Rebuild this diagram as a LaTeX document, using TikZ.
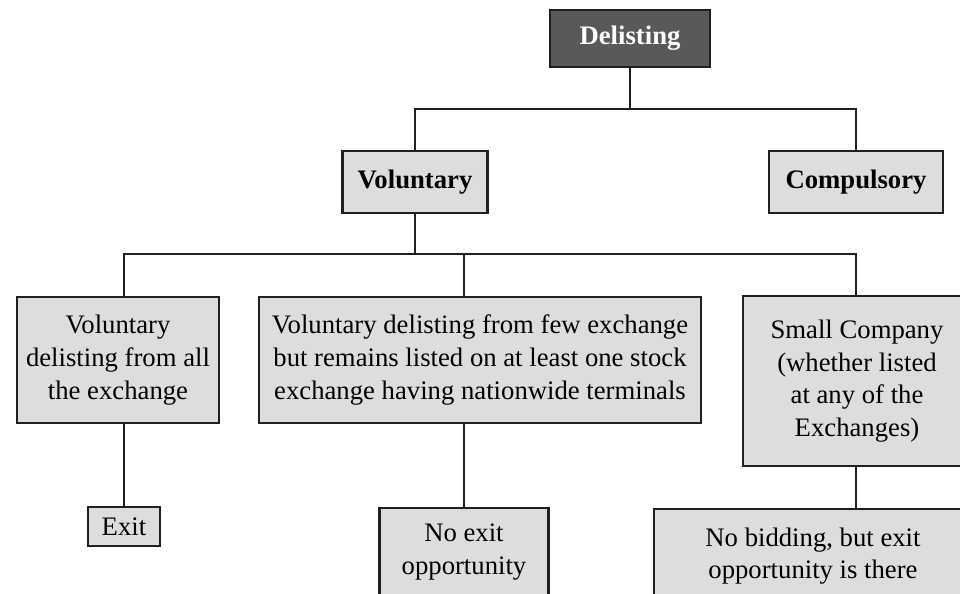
\documentclass[tikz,border=0pt]{standalone}
\usepackage{fontspec}
\setmainfont{Liberation Serif}

\definecolor{boxgray}{HTML}{DCDDDF}
\definecolor{headgray}{HTML}{58595B}
\definecolor{linegray}{HTML}{231F20}

\begin{document}
\begin{tikzpicture}[x=0.02cm, y=-0.02cm,
		box/.style={draw=linegray, line width=1.3pt, fill=boxgray, align=center, inner sep=0pt, font=\fontsize{15.2}{18.6}\selectfont},
		head/.style={box, font=\fontsize{15.2}{18.6}\selectfont\bfseries},
		link/.style={draw=linegray, line width=1.3pt}]
		\useasboundingbox (0,0) rectangle (960,594);
		\clip (0,0) rectangle (960,594);

		% Top of the tree
		\node[head, fill=headgray, text=white, minimum width=3.2cm, minimum height=1.14cm] (del) at (630,38.5) {Delisting};

		% Two kinds
		\node[head, minimum width=2.9cm, minimum height=1.24cm] (vol) at (415,182) {Voluntary};
		\node[head, minimum width=3.48cm, minimum height=1.24cm] (comp) at (856,182) {Compulsory};

		% Voluntary cases
		\node[box, minimum width=4.04cm, minimum height=2.52cm] (all) at (118,360) {Voluntary\\delisting from all\\the exchange};
		\node[box, minimum width=8.84cm, minimum height=2.52cm] (few) at (480,360) {Voluntary delisting from few exchange\\but remains listed on at least one stock\\exchange having nationwide terminals};
		\node[box, minimum width=4.56cm, minimum height=3.4cm] (small) at (857,381) {Small Company\\(whether listed\\at any of the\\Exchanges)};

		% Outcomes
		\node[box, minimum width=1.44cm, minimum height=0.78cm] (exit) at (124,526.5) {Exit};
		\node[box, minimum width=3.38cm, minimum height=1.76cm] (noexit) at (464,552) {No exit\\opportunity};
		\node[box, minimum width=6.36cm, minimum height=1.88cm] (nobid) at (813,556) {No bidding, but exit\\opportunity is there};

		% Branch points
		\coordinate (top) at (630,109);
		\coordinate (b1) at (124,254);
		\coordinate (b2) at (464,254);
		\coordinate (b3) at (856,254);

		% Connectors
		\draw[link] (del.south) -- (top);
		\draw[link] (vol.north) |- (top) -| (comp.north);
		\draw[link] (vol.south) -- (vol.south |- b1);
		\draw[link] (b1 |- all.north) -- (b1) -- (b3) -- (b3 |- small.north);
		\draw[link] (b2) -- (b2 |- few.north);
		\draw[link] (exit.north |- all.south) -- (exit.north);
		\draw[link] (noexit.north |- few.south) -- (noexit.north);
		\draw[link] (b3 |- small.south) -- (b3 |- nobid.north);
	\end{tikzpicture}
\end{document}
